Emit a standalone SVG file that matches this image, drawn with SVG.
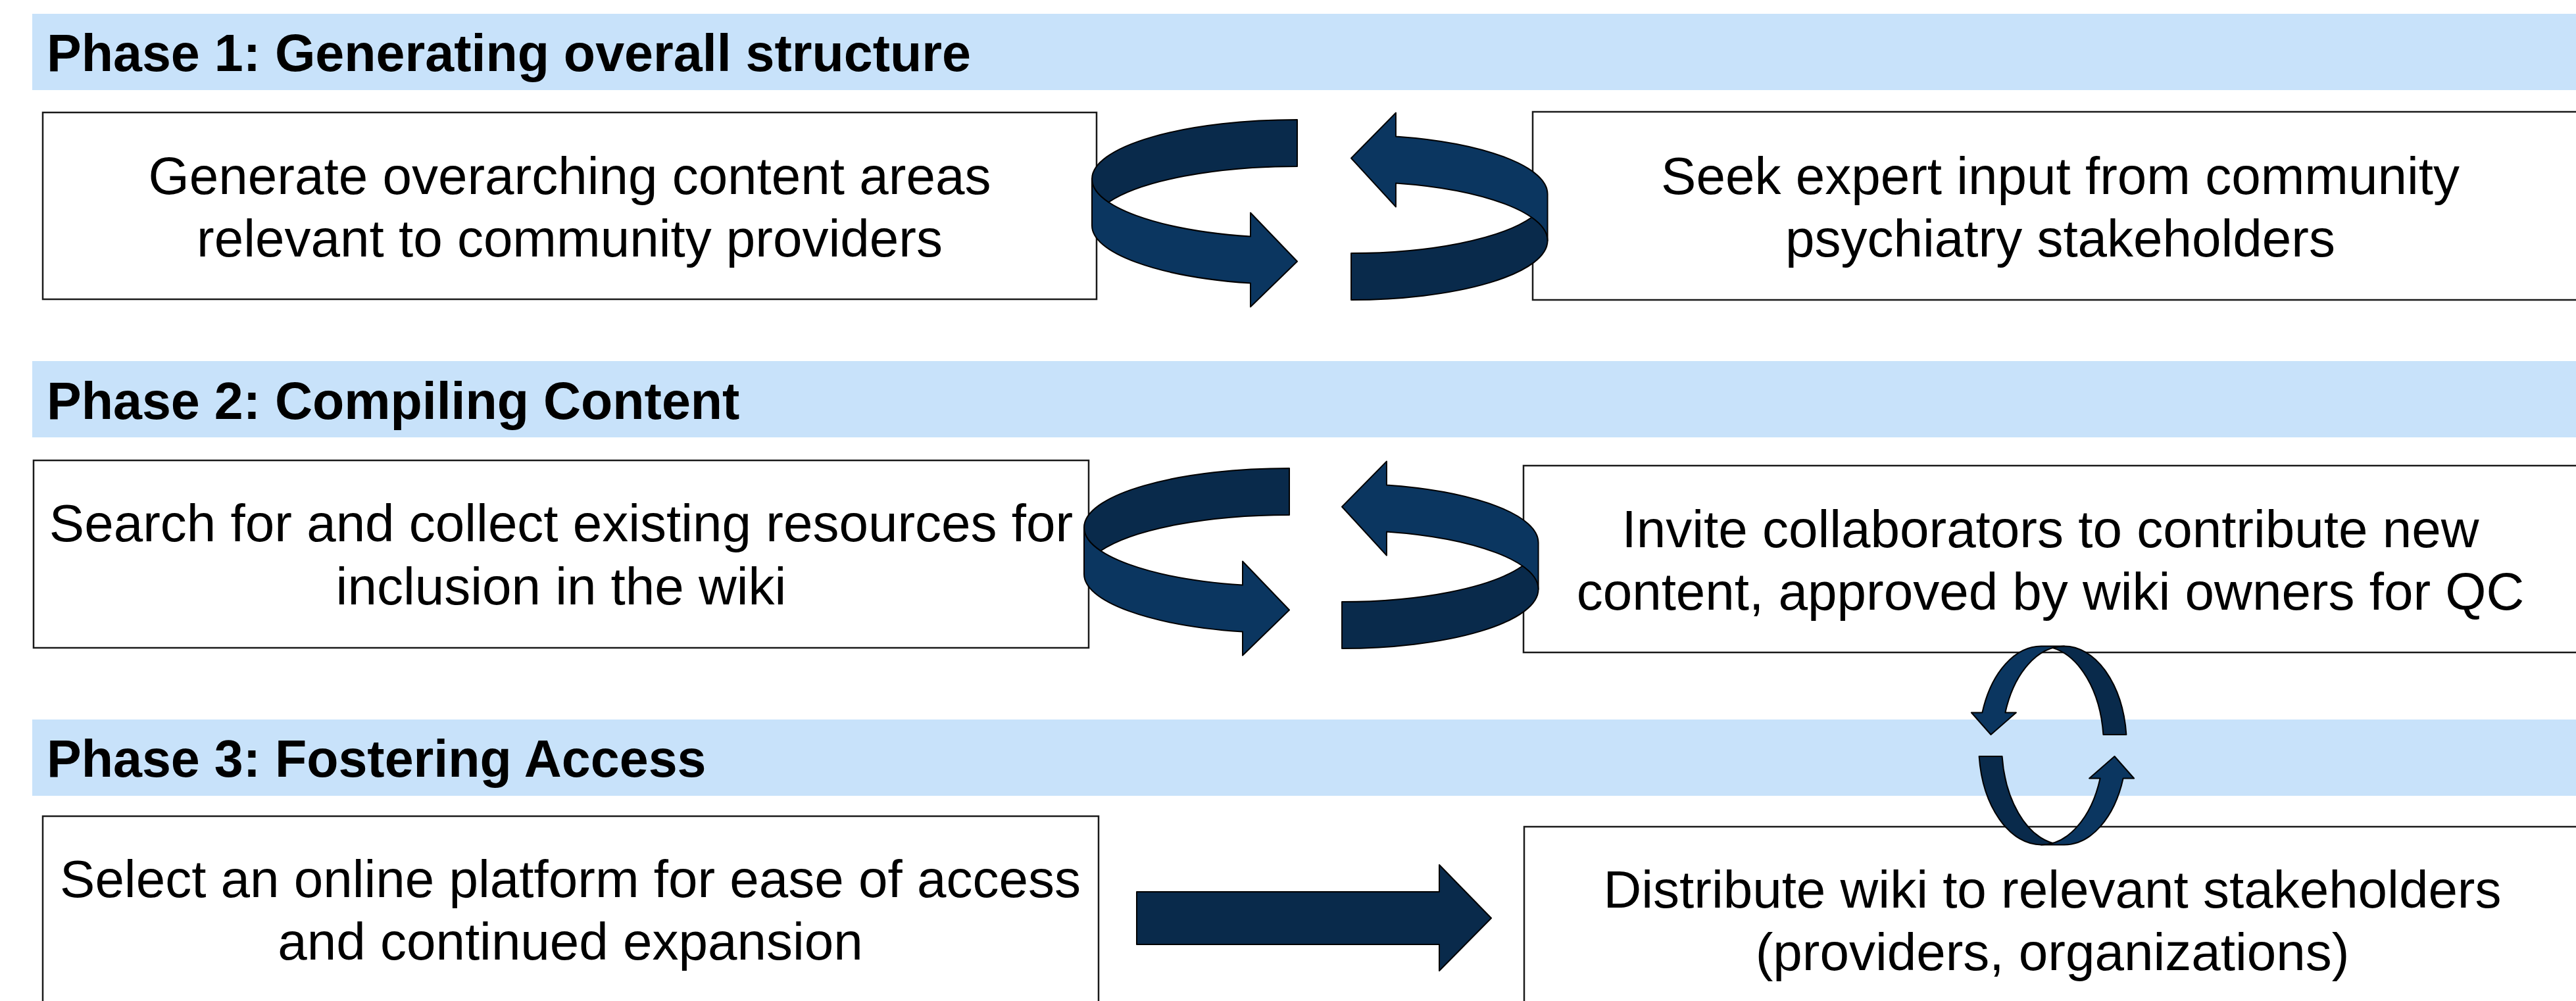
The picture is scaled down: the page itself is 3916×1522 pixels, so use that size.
<svg xmlns="http://www.w3.org/2000/svg" xmlns:xlink="http://www.w3.org/1999/xlink" width="3916" height="1522" viewBox="0 0 3916 1522">
<style>
.band{fill:#c8e2fa}
.title{font-family:"Liberation Sans",Arial,sans-serif;font-weight:bold;font-size:79px;fill:#000}
.box{fill:#fff;stroke:#1a1a1a;stroke-width:2.5}
.txt{font-family:"Liberation Sans",Arial,sans-serif;font-size:80px;fill:#000;text-anchor:middle}
.lt{fill:#0b3660;stroke:#000;stroke-width:2;stroke-linejoin:round}
.dk{fill:#092a4b;stroke:#000;stroke-width:2;stroke-linejoin:round}
</style>
<defs>
<g id="loopH">
<path class="lt" d="M -312,-35.5 A 312 90 0 0 0 -71,52.1 L -71,16 L 0,90 L -71,159 L -71,123.1 A 312 90 0 0 1 -312,35.5 Z"/>
<path class="dk" d="M 0,-125.5 A 312 90 0 0 0 -312,-35.5 A 312 90 0 0 0 -286.7,0 A 312 90 0 0 1 0,-54.5 Z"/>
</g>
<g id="loopV">
<path class="lt" d="M 17.5,-151 A 95 151 0 0 0 -72.1,-50 L -55.6,-50 L -94,-16.5 L -123.6,-50 L -107.1,-50 A 95 151 0 0 1 -17.5,-151 Z"/>
<path class="dk" d="M 111.9,-16.5 A 95 151 0 0 0 17.5,-151 A 95 151 0 0 0 0,-148.4 A 95 151 0 0 1 76.9,-16.5 Z"/>
</g>
</defs>
<rect width="3916" height="1522" fill="#fff"/>
<g id="phase1">
<rect class="band" x="49" y="21" width="3867" height="116"/>
<text class="title" x="71" y="108">Phase 1: Generating overall structure</text>
</g>
<g id="phase2">
<rect class="band" x="49" y="549" width="3867" height="116"/>
<text class="title" x="71" y="637">Phase 2: Compiling Content</text>
</g>
<g id="phase3">
<rect class="band" x="49" y="1094" width="3867" height="116"/>
<text class="title" x="71" y="1181">Phase 3: Fostering Access</text>
</g>
<g id="node1">
<rect class="box" x="65" y="171" width="1602" height="284"/>
<text class="txt" x="866" y="295">Generate overarching content areas</text>
<text class="txt" x="866" y="390">relevant to community providers</text>
</g>
<g id="node2">
<rect class="box" x="2330" y="170" width="1605" height="286"/>
<text class="txt" x="3132" y="295">Seek expert input from community</text>
<text class="txt" x="3132" y="390">psychiatry stakeholders</text>
</g>
<g id="node3">
<rect class="box" x="51" y="700" width="1604" height="285"/>
<text class="txt" x="853" y="823">Search for and collect existing resources for</text>
<text class="txt" x="853" y="919">inclusion in the wiki</text>
</g>
<g id="node4">
<rect class="box" x="2316" y="708" width="1602" height="284"/>
<text class="txt" x="3117" y="832">Invite collaborators to contribute new</text>
<text class="txt" x="3117" y="927">content, approved by wiki owners for QC</text>
</g>
<g id="node5">
<rect class="box" x="65" y="1241" width="1605" height="284"/>
<text class="txt" x="867" y="1364">Select an online platform for ease of access</text>
<text class="txt" x="867" y="1459">and continued expansion</text>
</g>
<g id="node6">
<rect class="box" x="2317" y="1257" width="1606" height="284"/>
<text class="txt" x="3120" y="1380">Distribute wiki to relevant stakeholders</text>
<text class="txt" x="3120" y="1475">(providers, organizations)</text>
</g>
<g id="connectors">
<use xlink:href="#loopH" href="#loopH" transform="translate(1972,307.5)"/>
<use xlink:href="#loopH" href="#loopH" transform="translate(2054,330.5) rotate(180) scale(0.957,1)"/>
<use xlink:href="#loopH" href="#loopH" transform="translate(1960,837.5)"/>
<use xlink:href="#loopH" href="#loopH" transform="translate(2040,860.5) rotate(180) scale(0.957,1)"/>
<use xlink:href="#loopV" href="#loopV" transform="translate(3120.5,1133.5)"/>
<use xlink:href="#loopV" href="#loopV" transform="translate(3120.5,1133.5) rotate(180)"/>
<path class="dk" d="M 1728,1356 L 2188,1356 L 2188,1315 L 2267,1396 L 2188,1476 L 2188,1436 L 1728,1436 Z"/>
</g>
</svg>
